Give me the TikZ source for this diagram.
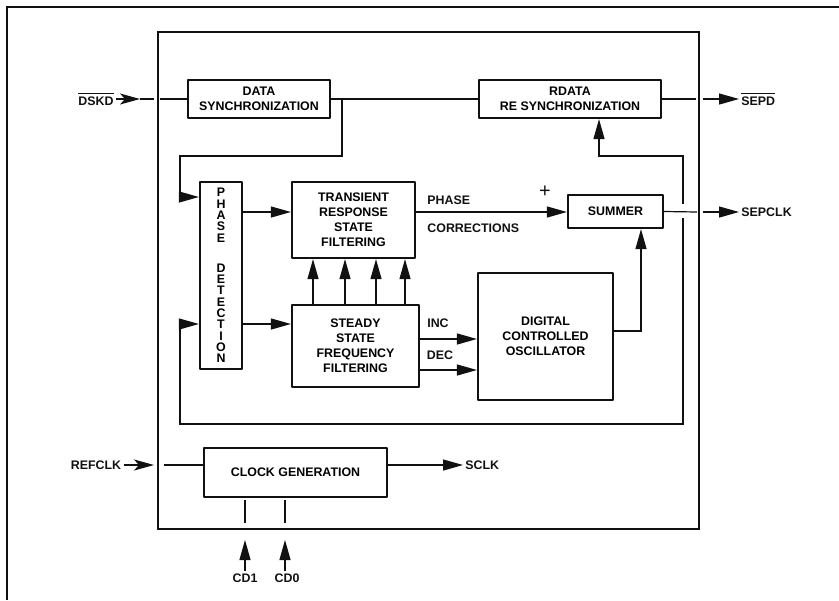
\documentclass[tikz,border=0pt]{standalone}
\usepackage{fontspec}
\setmainfont{Liberation Sans}
\usepackage{tikz}
\usetikzlibrary{calc,arrows.meta,positioning}
\definecolor{ink}{HTML}{111111}
\newcommand{\dfont}{\fontsize{6.2}{7.5}\selectfont\bfseries}
\newcommand{\vfont}{\fontsize{6.2}{5.65}\selectfont\bfseries}
\tikzset{
  frame/.style={draw=ink, line width=0.8pt},
  blk/.style={draw=ink, line width=1.1pt, line join=round, align=center, font=\dfont, inner sep=0pt},
  wire/.style={draw=ink, line width=0.6pt},
  sig/.style={wire, -{Triangle[length=10pt,width=5.5pt]}},
  pin/.style={wire, -{Stealth[length=10pt,width=5.5pt,inset=2.5pt]}},
  lab/.style={text=ink, font=\dfont, inner sep=1pt},
}

\begin{document}
\begin{tikzpicture}[x=0.5pt,y=-0.5pt]
  \useasboundingbox (0,0) rectangle (839,600);

  % frames
  \draw[frame, line width=1pt] (7,600) -- (7,7) -- (839,7);
  \draw[frame] (158,32) rectangle (699,529);

  % blocks
  \node[blk, minimum width=71pt, minimum height=19pt] (datasync) at (259,99) {DATA\\SYNCHRONIZATION};
  \node[blk, minimum width=91pt, minimum height=19pt] (rdata) at (570,99) {RDATA\\RE SYNCHRONIZATION};
  \node[blk, minimum width=21pt, minimum height=93.5pt, font=\vfont] (phase) at (221,275.5)
    {P\\H\\A\\S\\E\\[9.5pt]D\\E\\T\\E\\C\\T\\I\\O\\N};
  \node[blk, minimum width=61.5pt, minimum height=38pt] (transient) at (353.5,220)
    {TRANSIENT\\RESPONSE\\STATE\\FILTERING};
  \node[blk, minimum width=63.5pt, minimum height=41pt] (steady) at (355.5,346)
    {STEADY\\STATE\\FREQUENCY\\FILTERING};
  \node[blk, minimum width=47.5pt, minimum height=16.5pt] (summer) at (615.5,211.5) {SUMMER};
  \node[blk, minimum width=67.5pt, minimum height=63.5pt] (dco) at (545.5,336.5)
    {DIGITAL\\CONTROLLED\\OSCILLATOR};
  \node[blk, minimum width=91.5pt, minimum height=24.5pt] (clock) at (295.5,472.5) {CLOCK GENERATION};

  % pin labels
  \node[lab] (dskd) at (96,99) {$\overline{\hbox{\dfont DSKD}}$};
  \node[lab, anchor=west] (sepd) at (739,99) {$\overline{\hbox{\dfont SEPD}}$};
  \node[lab, anchor=west] (sepclk) at (739,212) {SEPCLK};
  \node[lab] (refclk) at (96,465) {REFCLK};
  \node[lab, anchor=west] (sclk) at (463,465) {SCLK};
  \node[lab] (cd1) at (245,578) {CD1};
  \node[lab] (cd0) at (287,578) {CD0};

  % rows and taps
  \coordinate (rowA) at (0,197);
  \coordinate (rowT) at (0,212);
  \coordinate (rowS) at (0,324);
  \coordinate (rowI) at (0,339);
  \coordinate (rowD) at (0,370);
  \coordinate (rowC) at (0,465);
  \coordinate (tap) at (342,99);
  \coordinate (fbx) at (599,0);
  \coordinate (dcox) at (641,0);

  % data path
  \draw[pin] (dskd.east) -- (140,99);
  \draw[wire] (140,99) -- (154,99);
  \draw[wire] (160,99) -- (datasync.west);
  \draw[wire] (datasync.east) -- (rdata.west);
  \draw[wire] (rdata.east) -- (696,99);
  \draw[sig] (703,99) -- (sepd.west);

  % phase detection inputs
  \draw[sig] (tap) -- (342,156) -- (180,156) |- (phase.west |- rowA);
  \draw[sig] (683,218) -- (683,424) -- (180,424) |- (phase.west |- rowS);
  \draw[sig] (683,204) -- (683,156) -- (599,156) -- (rdata.south -| fbx);

  % filters
  \draw[sig] (phase.east |- rowT) -- (transient.west |- rowT);
  \draw[sig] (phase.east |- rowS) -- (steady.west |- rowS);
  \foreach \x in {313,345,376,405}
    \draw[sig] (steady.north -| \x,0) -- (transient.south -| \x,0);

  \draw[sig] (transient.east |- rowT) -- (summer.west |- rowT);
  \node[lab, anchor=west] (phlab) at (425,200) {PHASE};
  \node[lab, anchor=west] (corlab) at (425,228) {CORRECTIONS};
  \node[lab, font=\fontsize{10}{10}\selectfont] (plus) at (545,192) {+};

  \draw[sig] (steady.east |- rowI) -- (dco.west |- rowI);
  \draw[sig] (steady.east |- rowD) -- (dco.west |- rowD);
  \node[lab] (inc) at (438,323) {INC};
  \node[lab] (dec) at (440,355) {DEC};

  \draw[sig] (dco.east |- 0,331) -| (summer.south -| dcox);
  \draw[wire] (summer.east) -- (697,212);
  \draw[sig] (703,212) -- (sepclk.west);

  % clock
  \draw[pin] (refclk.east) -- (154,465);
  \draw[wire] (164,465) -- (clock.west |- rowC);
  \draw[sig] (clock.east |- rowC) -- (sclk.west);
  \foreach \x/\n in {245/cd1,285/cd0}{
    \draw[wire] (\x,500) -- (\x,523);
    \draw[sig] (\n.north -| \x,0) -- (\x,540);
  }
\end{tikzpicture}
\end{document}
